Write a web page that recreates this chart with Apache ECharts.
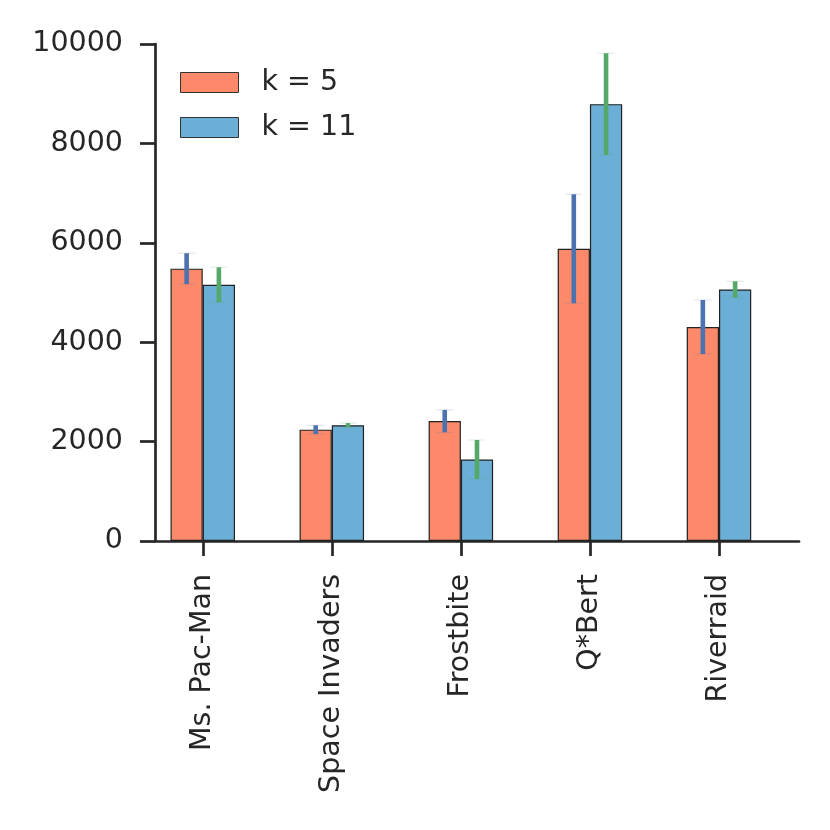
<!DOCTYPE html>
<html>
<head>
<meta charset="UTF-8">
<title>k = 5 vs k = 11</title>
<script src="https://cdn.jsdelivr.net/npm/echarts@6/dist/echarts.min.js"></script>
<style>
  html, body { margin: 0; padding: 0; background: #fff; }
  #chart { width: 830px; height: 830px; }
</style>
</head>
<body>
<div id="chart"></div>
<script>
// games on the x axis
const games = ['Ms. Pac-Man', 'Space Invaders', 'Frostbite', 'Q*Bert', 'Riverraid'];
// mean scores and error half-widths
const k5 = [5480, 2240, 2412, 5880, 4306];
const k5Err = [310, 88, 225, 1097, 543];
const k11 = [5155, 2330, 1640, 8790, 5060];
const k11Err = [352, 43, 392, 1023, 165];
const yTicks = [0, 2000, 4000, 6000, 8000, 10000];

const textColor = '#262626';
const font = 'DejaVu Sans';

const barData = vals => vals.map((v, i) => [i, v]);
const errData = (vals, errs) => vals.map((v, i) => [i, v - errs[i], v + errs[i]]);

function errorBar(offset, color, capColor) {
  return function (params, api) {
    const x = api.value(0) + offset;
    const lo = api.coord([x, api.value(1)]);
    const hi = api.coord([x, api.value(2)]);
    return {
      type: 'group',
      children: [
        { type: 'line', shape: { x1: lo[0] - 8.5, y1: lo[1], x2: lo[0] + 8.5, y2: lo[1] },
          style: { stroke: capColor, lineWidth: 1.2 } },
        { type: 'line', shape: { x1: hi[0] - 8.5, y1: hi[1], x2: hi[0] + 8.5, y2: hi[1] },
          style: { stroke: capColor, lineWidth: 1.2 } },
        { type: 'rect', shape: { x: lo[0] - 2.3, y: hi[1], width: 4.6, height: lo[1] - hi[1] },
          style: { fill: color } }
      ]
    };
  };
}

const chart = echarts.init(document.getElementById('chart'));
chart.setOption({
  animation: false,
  grid: { left: 155, right: 31, top: 44, bottom: 289, containLabel: false },
  legend: {
    left: 180, top: 68, padding: 0,
    orient: 'vertical',
    itemWidth: 58, itemHeight: 20, itemGap: 16,
    icon: 'rect',
    itemStyle: { borderColor: '#333', borderWidth: 1 },
    textStyle: { fontFamily: font, fontSize: 28.5, lineHeight: 20, color: textColor, padding: [0, 0, 0, 18] },
    data: ['k = 5', 'k = 11']
  },
  xAxis: {
    type: 'value',
    min: -0.37, max: 4.62,
    splitLine: { show: false },
    axisLine: { show: true, onZero: false, lineStyle: { color: textColor, width: 2.7 } },
    axisTick: { show: true, length: 15, customValues: [0, 1, 2, 3, 4],
      lineStyle: { color: textColor, width: 2.7 } },
    axisLabel: {
      customValues: [0, 1, 2, 3, 4],
      rotate: 90, margin: 33,
      fontFamily: font, fontSize: 28.5, color: textColor,
      formatter: v => games[Math.round(v)]
    }
  },
  yAxis: {
    type: 'value',
    min: 0, max: 10000, interval: 2000,
    splitLine: { show: false },
    axisLine: { show: true, onZero: false, lineStyle: { color: textColor, width: 2.7 } },
    axisTick: { show: true, length: 15, lineStyle: { color: textColor, width: 2.7 } },
    axisLabel: {
      margin: 32, fontFamily: font, fontSize: 28.5, color: textColor,
      formatter: v => (yTicks.indexOf(v) >= 0 ? String(v) : '')
    }
  },
  series: [
    {
      name: 'k = 5', type: 'bar', data: barData(k5),
      barWidth: 32.25, barGap: '0%',
      itemStyle: { color: '#fc8a6a', borderColor: '#222', borderWidth: 1.2 }
    },
    {
      name: 'k = 11', type: 'bar', data: barData(k11),
      barWidth: 32.25, barGap: '0%',
      itemStyle: { color: '#6baed6', borderColor: '#222', borderWidth: 1.2 }
    },
    {
      type: 'custom', name: 'err5', data: errData(k5, k5Err), z: 5,
      encode: { x: 0, y: [1, 2] },
      renderItem: errorBar(-0.125, '#4c72b0', 'rgba(76,114,176,0.18)')
    },
    {
      type: 'custom', name: 'err11', data: errData(k11, k11Err), z: 5,
      encode: { x: 0, y: [1, 2] },
      renderItem: errorBar(0.125, '#55a868', 'rgba(85,168,104,0.18)')
    }
  ]
});
</script>
</body>
</html>
